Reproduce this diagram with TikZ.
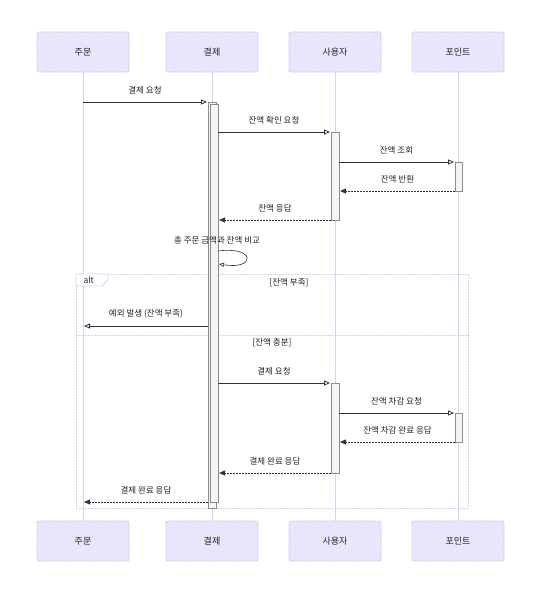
\documentclass[tikz,border=0pt]{standalone}
\usepackage{fontspec}
\setmainfont{Noto Sans CJK KR}
\usepackage{xcolor}
\usetikzlibrary{arrows.meta,patterns,positioning}

\definecolor{lane}{HTML}{D9CFF3}
\definecolor{boxfill}{HTML}{EEEEFF}
\definecolor{boxline}{HTML}{D6CCF3}
\definecolor{hatch}{HTML}{DDD7F8}
\definecolor{txt}{HTML}{222222}

\tikzset{
  actor/.style={draw=boxline, fill=boxfill, rounded corners=2pt, line width=0.8pt,
    minimum width=92pt, minimum height=40pt, text=txt,
    font=\fontsize{9}{11}\selectfont,
    postaction={pattern=north east lines, pattern color=hatch}},
  lifeline/.style={draw=lane, line width=0.9pt},
  msg/.style={draw=black!80, line width=0.8pt, -{Triangle[open,length=6pt,width=5pt]}},
  reply/.style={draw=black!80, line width=0.8pt, dash pattern=on 2pt off 1pt,
    -{Triangle[length=6pt,width=5pt]}},
  mlabel/.style={text=txt, font=\fontsize{8.5}{10}\selectfont},
  activ/.style={draw=black!45, fill=black!4, line width=0.4pt},
  frame/.style={draw=lane, dash pattern=on 2pt off 1pt, line width=0.9pt},
}

\begin{document}
\begin{tikzpicture}[x=1pt, y=-1pt]
		\useasboundingbox (0,0) rectangle (544,594);
		%----------------------------------------------------
		% participants, top and bottom
		%----------------------------------------------------
		\node[actor] (ord) at (83,52) {주문};
		\node[actor] (pay) at (212,52) {결제};
		\node[actor] (usr) at (335,52) {사용자};
		\node[actor] (pnt) at (458,52) {포인트};
		\node[actor] (ordB) at (83,541) {주문};
		\node[actor] (payB) at (212,541) {결제};
		\node[actor] (usrB) at (335,541) {사용자};
		\node[actor] (pntB) at (458,541) {포인트};

		\draw[lifeline] (ord) -- (ordB);
		\draw[lifeline] (pay) -- (payB);
		\draw[lifeline] (usr) -- (usrB);
		\draw[lifeline] (pnt) -- (pntB);

		%----------------------------------------------------
		% alt frame
		%----------------------------------------------------
		\coordinate (altNW) at (76,274);
		\coordinate (altSE) at (468,508);
		\draw[frame] (altNW) rectangle (altSE);
		\draw[frame] (76,335) -- (468,335);
		\draw[draw=lane, fill=white, line width=0.8pt]
			(76,274) -- (108,274) -- (108,280) -- (102,286) -- (76,286) -- cycle;
		\node[mlabel, anchor=west] (altTag) at (80,280) {alt};
		\node[mlabel] (lack) at (289,283) {[잔액 부족]};
		\node[mlabel] (enough) at (272,343) {[잔액 충분]};

		%----------------------------------------------------
		% activation bars
		%----------------------------------------------------
		\draw[activ] (208,102) rectangle (216,508);
		\draw[activ] (210,104) rectangle (218,502);
		\draw[activ] (331,132) rectangle (339,220);
		\draw[activ] (455,162) rectangle (462,191);
		\draw[activ] (331,383) rectangle (339,473);
		\draw[activ] (455,413) rectangle (462,442);

		%----------------------------------------------------
		% messages
		%----------------------------------------------------
		\coordinate (m1a) at (83,102);  \coordinate (m1b) at (207,102);
		\draw[msg] (m1a) -- (m1b) node[mlabel, midway, above=4pt] {결제 요청};

		\coordinate (m2a) at (218,132); \coordinate (m2b) at (330,132);
		\draw[msg] (m2a) -- (m2b) node[mlabel, midway, above=4pt] {잔액 확인 요청};

		\coordinate (m3a) at (339,162); \coordinate (m3b) at (454,162);
		\draw[msg] (m3a) -- (m3b) node[mlabel, midway, above=4pt] {잔액 조회};

		\coordinate (m4a) at (455,191); \coordinate (m4b) at (340,191);
		\draw[reply] (m4a) -- (m4b) node[mlabel, midway, above=4pt] {잔액 반환};

		\coordinate (m5a) at (331,220); \coordinate (m5b) at (219,220);
		\draw[reply] (m5a) -- (m5b) node[mlabel, midway, above=4pt] {잔액 응답};

		% self check
		\node[mlabel] (cmp) at (217,240) {총 주문 금액과 잔액 비교};
		\coordinate (s1) at (218,251); \coordinate (s2) at (219,264);
		\draw[draw=black!80, line width=0.6pt, -{Triangle[open,length=5pt,width=4pt]}]
			(s1) .. controls (256,246) and (256,270) .. (s2);

		\coordinate (m6a) at (208,326); \coordinate (m6b) at (84,326);
		\draw[msg] (m6a) -- (m6b) node[mlabel, midway, above=4pt] {예외 발생 (잔액 부족)};

		\coordinate (m7a) at (218,383); \coordinate (m7b) at (330,383);
		\draw[msg] (m7a) -- (m7b) node[mlabel, midway, above=4pt] {결제 요청};

		\coordinate (m8a) at (339,413); \coordinate (m8b) at (454,413);
		\draw[msg] (m8a) -- (m8b) node[mlabel, midway, above=4pt] {잔액 차감 요청};

		\coordinate (m9a) at (455,442); \coordinate (m9b) at (340,442);
		\draw[reply] (m9a) -- (m9b) node[mlabel, midway, above=4pt] {잔액 차감 완료 응답};

		\coordinate (m10a) at (331,473); \coordinate (m10b) at (219,473);
		\draw[reply] (m10a) -- (m10b) node[mlabel, midway, above=4pt] {결제 완료 응답};

		\coordinate (m11a) at (208,502); \coordinate (m11b) at (84,502);
		\draw[reply] (m11a) -- (m11b) node[mlabel, midway, above=4pt] {결제 완료 응답};

	\end{tikzpicture}
\end{document}
